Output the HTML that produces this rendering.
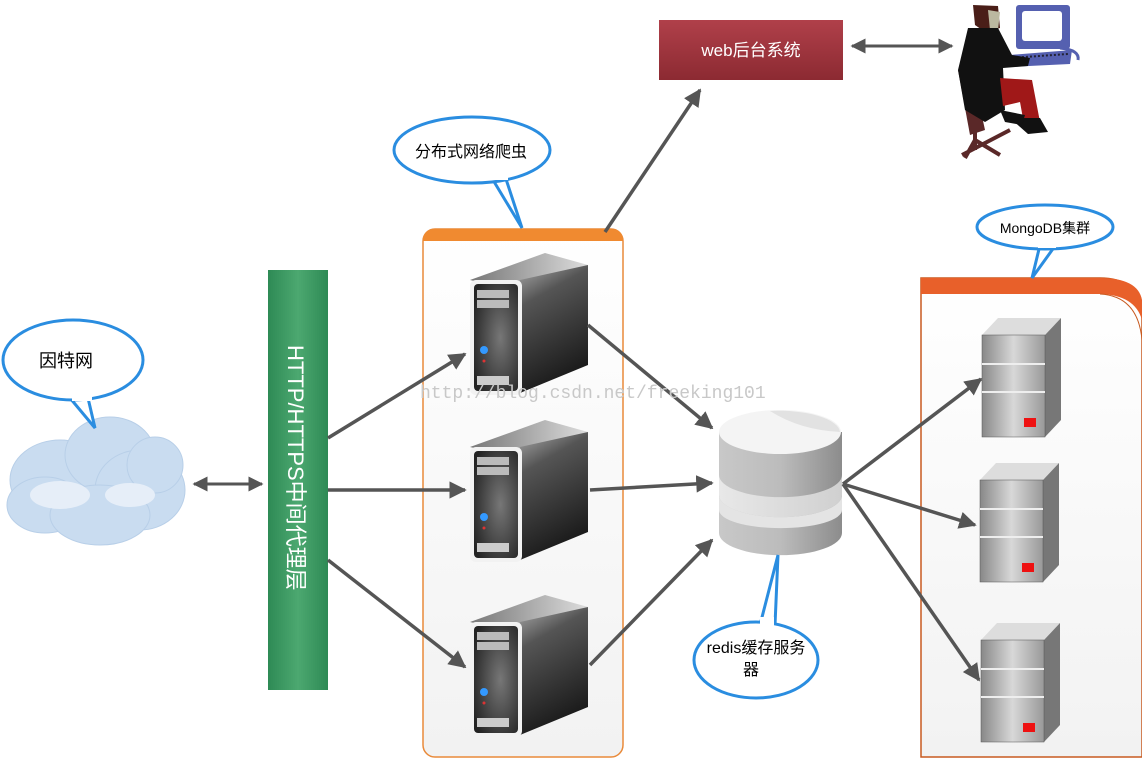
<!DOCTYPE html>
<html><head><meta charset="utf-8"><style>
html,body{margin:0;padding:0;background:#fff;}
svg{display:block;}
text{font-family:"Liberation Sans","Noto Sans CJK SC",sans-serif;}
</style></head><body>
<svg width="1142" height="761" viewBox="0 0 1142 761" xmlns="http://www.w3.org/2000/svg">
<defs>
<marker id="ah" viewBox="0 0 10 10" refX="9" refY="5" markerWidth="5" markerHeight="5" orient="auto-start-reverse"><path d="M0,0 L10,5 L0,10 Z" fill="#555"/></marker>
<linearGradient id="dk" x1="0" y1="0" x2="0.3" y2="1"><stop offset="0" stop-color="#aaa"/><stop offset="0.3" stop-color="#555"/><stop offset="1" stop-color="#1a1a1a"/></linearGradient>
<linearGradient id="tp" x1="0" y1="0" x2="1" y2="0"><stop offset="0" stop-color="#777"/><stop offset="1" stop-color="#ddd"/></linearGradient>
<radialGradient id="fr" cx="0.6" cy="0.5" r="0.7"><stop offset="0" stop-color="#777"/><stop offset="1" stop-color="#222"/></radialGradient>
<linearGradient id="gs" x1="0" y1="0" x2="1" y2="0"><stop offset="0" stop-color="#888"/><stop offset="0.5" stop-color="#d8d8d8"/><stop offset="1" stop-color="#999"/></linearGradient>
<linearGradient id="cy" x1="0" y1="0" x2="1" y2="0"><stop offset="0" stop-color="#c8c8c8"/><stop offset="0.5" stop-color="#bcbcbc"/><stop offset="1" stop-color="#8c8c8c"/></linearGradient>
<linearGradient id="cy2" x1="0" y1="0" x2="1" y2="0"><stop offset="0" stop-color="#e8e8e8"/><stop offset="1" stop-color="#d0d0d0"/></linearGradient>
<linearGradient id="gr" x1="0" y1="0" x2="1" y2="0"><stop offset="0" stop-color="#2e8a55"/><stop offset="0.5" stop-color="#4ca870"/><stop offset="1" stop-color="#2e8a55"/></linearGradient>
<linearGradient id="rd" x1="0" y1="0" x2="0" y2="1"><stop offset="0" stop-color="#b0404a"/><stop offset="1" stop-color="#8c2a32"/></linearGradient>
<linearGradient id="pn" x1="0" y1="0" x2="0" y2="1"><stop offset="0" stop-color="#fff"/><stop offset="1" stop-color="#f2f2f2"/></linearGradient>
</defs>

<!-- cloud -->
<g fill="#c9dcf0" stroke="#b8cfe8">
<ellipse cx="60" cy="480" rx="50" ry="40"/><ellipse cx="110" cy="455" rx="45" ry="38"/><ellipse cx="140" cy="490" rx="45" ry="40"/><ellipse cx="45" cy="505" rx="38" ry="28"/><ellipse cx="100" cy="515" rx="50" ry="30"/><ellipse cx="155" cy="465" rx="28" ry="28"/>
</g>
<g fill="#e6eef8"><ellipse cx="60" cy="495" rx="30" ry="14"/><ellipse cx="130" cy="495" rx="25" ry="12"/></g>

<!-- callout 因特网 -->
<path d="M70,398 L95,428 L88,398 Z" fill="#fff" stroke="#2a8de0" stroke-width="3"/>
<ellipse cx="73" cy="360" rx="70" ry="40" fill="#fff" stroke="#2a8de0" stroke-width="3"/>
<rect x="72" y="393" width="20" height="8" fill="#fff"/>
<text x="66" y="367" font-size="18" text-anchor="middle">因特网</text>

<line x1="194" y1="484" x2="262" y2="484" stroke="#555" stroke-width="3" marker-start="url(#ah)" marker-end="url(#ah)"/>

<!-- green bar -->
<rect x="268" y="270" width="60" height="420" fill="url(#gr)"/>
<text transform="translate(288,345) rotate(90)" font-size="22" fill="#fff">HTTP/HTTPS中间代理层</text>

<!-- orange panel 1 -->
<rect x="423" y="229" width="200" height="528" rx="12" fill="url(#pn)" stroke="#e98a3a" stroke-width="1.5"/>
<path d="M423,241 Q423,229 435,229 L611,229 Q623,229 623,241 Z" fill="#f08a30"/>

<!-- callout crawler -->
<path d="M490,175 L522,228 L505,176 Z" fill="#fff" stroke="#2a8de0" stroke-width="3"/>
<ellipse cx="472" cy="150" rx="78" ry="33" fill="#fff" stroke="#2a8de0" stroke-width="3"/>
<rect x="490" y="170" width="18" height="10" fill="#fff"/>
<text x="471" y="157" font-size="16" text-anchor="middle">分布式网络爬虫</text>

<!-- dark servers -->
<g id="s1">
<path d="M470,280 L545,253 L588,265 L520,292 Z" fill="url(#tp)"/>
<path d="M520,280 L588,265 L588,365 L520,393 Z" fill="url(#dk)"/>
<rect x="470" y="280" width="52" height="115" rx="6" fill="#f2f2f2"/>
<rect x="474" y="284" width="44" height="107" rx="4" fill="url(#fr)"/>
<rect x="477" y="290" width="32" height="8" fill="#bbb"/><rect x="477" y="300" width="32" height="8" fill="#bbb"/>
<circle cx="484" cy="350" r="4" fill="#39f"/><circle cx="484" cy="361" r="1.5" fill="#d33"/>
<rect x="477" y="376" width="32" height="9" fill="#ccc"/>
</g>
<use href="#s1" transform="translate(0,167)"/>
<use href="#s1" transform="translate(0,342)"/>

<!-- web box -->
<rect x="659" y="20" width="184" height="60" fill="url(#rd)"/>
<text x="751" y="56" font-size="17" fill="#fff" text-anchor="middle">web后台系统</text>

<!-- person -->
<g>
<path d="M1060,48 Q1080,50 1078,60" stroke="#5560b0" stroke-width="3" fill="none"/>
<rect x="1016" y="5" width="54" height="44" rx="3" fill="#5560b0"/><rect x="1022" y="11" width="40" height="30" rx="3" fill="#fff"/>
<path d="M1010,55 L1072,50 L1070,64 L1008,67 Z" fill="#5560b0"/>
<path d="M1010,58 L1068,54" stroke="#223" stroke-width="2" stroke-dasharray="2 2"/>
<path d="M958,70 L972,70 L985,130 L970,135 Z" fill="#5a2828"/>
<path d="M975,130 L975,150 M962,155 L1010,130 M975,140 L965,158 M975,140 L1000,155" stroke="#5a2828" stroke-width="4"/>
<path d="M973,5 L998,6 L1000,28 L985,32 L975,25 Z" fill="#4a1e18"/>
<path d="M988,10 L1000,12 L998,30 L990,30 Z" fill="#bbb8a0"/>
<path d="M968,28 L998,28 L1012,55 L1030,58 L1028,66 L1003,68 L1005,110 L985,122 L965,110 L958,70 Z" fill="#111"/>
<path d="M1000,78 L1032,80 L1040,122 L1024,124 L1020,102 L1003,106 Z" fill="#a01818"/>
<path d="M1010,118 L1040,118 L1048,132 L1028,134 Z" fill="#111"/>
<path d="M1000,110 L1025,115 L1022,125 L1005,122 Z" fill="#111"/>
</g>

<!-- cylinder -->
<path d="M719,432 L719,533 A61,22 0 0 0 842,533 L842,432 Z" fill="url(#cy)"/>
<path d="M719,475 A61,22 0 0 0 842,475 L842,495 A61,22 0 0 1 719,495 Z" fill="url(#cy2)"/>
<path d="M719,495 A61,22 0 0 0 842,495 L842,510 A61,18 0 0 1 719,510 Z" fill="#e4e4e4"/>
<ellipse cx="780" cy="432" rx="61" ry="22" fill="#f4f4f4"/>
<path d="M770,411 A61,22 0 0 1 840,432 Q800,430 770,411 Z" fill="#e2e2e2"/>

<!-- callout redis -->
<path d="M760,625 L778,555 L775,625 Z" fill="#fff" stroke="#2a8de0" stroke-width="3"/>
<ellipse cx="756" cy="660" rx="62" ry="38" fill="#fff" stroke="#2a8de0" stroke-width="3"/>
<rect x="760" y="617" width="14" height="12" fill="#fff"/>
<text x="756" y="653" font-size="16" text-anchor="middle">redis缓存服务</text>
<text x="751" y="675" font-size="16" text-anchor="middle">器</text>

<!-- orange panel 2 -->
<path d="M921,757 L921,278 L1100,278 Q1142,278 1142,320 L1142,757 Z" fill="url(#pn)" stroke="#c85a20" stroke-width="1.5"/>
<path d="M921,278 L1100,278 Q1138,278 1142,300 L1142,320 Q1135,295 1100,294 L921,294 Z" fill="#e8602a"/>
<path d="M1100,294 Q1138,296 1142,340" fill="none" stroke="#c85a20"/>

<!-- callout MongoDB -->
<path d="M1040,245 L1032,278 L1055,246 Z" fill="#fff" stroke="#2a8de0" stroke-width="3"/>
<ellipse cx="1045" cy="227" rx="68" ry="22" fill="#fff" stroke="#2a8de0" stroke-width="3"/>
<rect x="1038" y="240" width="18" height="8" fill="#fff"/>
<text x="1045" y="233" font-size="14" text-anchor="middle">MongoDB集群</text>

<!-- gray servers -->
<g id="g1">
<path d="M982,335 L998,318 L1061,318 L1045,335 Z" fill="#ddd"/>
<path d="M1045,335 L1061,318 L1061,420 L1045,437 Z" fill="#777"/>
<rect x="982" y="335" width="63" height="102" fill="url(#gs)" stroke="#555" stroke-width="0.5"/>
<line x1="982" y1="364" x2="1045" y2="364" stroke="#eee" stroke-width="2"/>
<line x1="982" y1="392" x2="1045" y2="392" stroke="#eee" stroke-width="2"/>
<rect x="1024" y="418" width="12" height="9" fill="#e11"/>
</g>
<use href="#g1" transform="translate(-2,145)"/>
<use href="#g1" transform="translate(-1,305)"/>

<!-- arrows -->
<g stroke="#555" stroke-width="3.5" marker-end="url(#ah)">
<line x1="328" y1="438" x2="465" y2="354"/>
<line x1="328" y1="490" x2="465" y2="490"/>
<line x1="328" y1="560" x2="465" y2="667"/>
<line x1="605" y1="232" x2="700" y2="90"/>
<line x1="588" y1="325" x2="712" y2="428"/>
<line x1="590" y1="490" x2="712" y2="483"/>
<line x1="590" y1="665" x2="712" y2="540"/>
<line x1="843" y1="484" x2="981" y2="379"/>
<line x1="843" y1="484" x2="975" y2="525"/>
<line x1="843" y1="484" x2="979" y2="680"/>
</g>
<line x1="852" y1="46" x2="952" y2="46" stroke="#555" stroke-width="3" marker-start="url(#ah)" marker-end="url(#ah)"/>

<!-- watermark -->
<text x="420" y="398" font-size="18" fill="#c8c8c8" style="font-family:'Liberation Mono',monospace">http://blog.csdn.net/freeking101</text>
</svg>
</body></html>
